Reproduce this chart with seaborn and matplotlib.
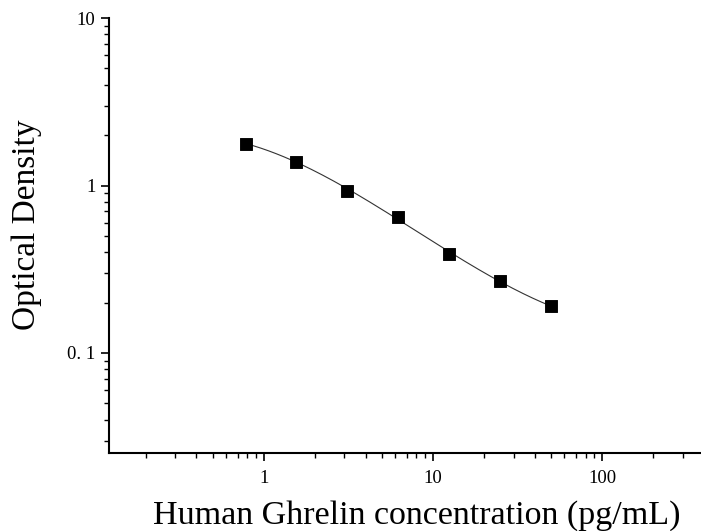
import numpy as np
import pandas as pd
import matplotlib
matplotlib.use("Agg")
import matplotlib.pyplot as plt
import seaborn as sns
from matplotlib.ticker import LogLocator, FixedLocator, FixedFormatter, NullFormatter

# standard curve values
concentration = [0.78, 1.56, 3.125, 6.25, 12.5, 25, 50]
optical_density = [1.78, 1.39, 0.93, 0.65, 0.39, 0.27, 0.19]
x_ticks = [1, 10, 100]
x_tick_labels = ["1", "10", "100"]
y_ticks = [0.1, 1, 10]
y_tick_labels = ["0. 1", "1", "10"]

df = pd.DataFrame({"conc": concentration, "od": optical_density})

sns.set_style("white")
plt.rcParams["font.family"] = ["Liberation Serif", "DejaVu Serif"]
plt.rcParams["text.color"] = "black"
plt.rcParams["axes.labelcolor"] = "black"
plt.rcParams["xtick.color"] = "black"
plt.rcParams["ytick.color"] = "black"

fig = plt.figure(figsize=(7.01, 5.31), dpi=100)
ax = fig.add_axes([0.155, 0.147, 0.845, 0.819])

# smooth fitted curve (cubic in log-log space)
coef = np.polyfit(np.log10(df.conc), np.log10(df.od), 3)
xs = np.logspace(np.log10(df.conc.min()), np.log10(df.conc.max()), 200)
fit = pd.DataFrame({"conc": xs, "od": 10 ** np.polyval(coef, np.log10(xs))})
sns.lineplot(data=fit, x="conc", y="od", ax=ax, color="#333333", linewidth=0.8)

sns.scatterplot(data=df, x="conc", y="od", ax=ax, marker="s", s=65,
                color="black", edgecolor="black", zorder=3)

ax.set_xscale("log")
ax.set_yscale("log")
ax.set_xlim(0.121, 385)
ax.set_ylim(0.0253, 10)

ax.xaxis.set_major_locator(FixedLocator(x_ticks))
ax.xaxis.set_major_formatter(FixedFormatter(x_tick_labels))
ax.yaxis.set_major_locator(FixedLocator(y_ticks))
ax.yaxis.set_major_formatter(FixedFormatter(y_tick_labels))
ax.xaxis.set_minor_locator(LogLocator(base=10, subs=np.arange(2, 10)))
ax.yaxis.set_minor_locator(LogLocator(base=10, subs=np.arange(2, 10)))
ax.xaxis.set_minor_formatter(NullFormatter())
ax.yaxis.set_minor_formatter(NullFormatter())

ax.tick_params(which="major", direction="out", length=6, width=1.2,
               labelsize=13.5, bottom=True, left=True, colors="black")
ax.tick_params(axis="x", which="major", pad=6)
ax.tick_params(which="minor", direction="out", length=3.5, width=1.0,
               bottom=True, left=True, colors="black")

for side in ["top", "right"]:
    ax.spines[side].set_visible(False)
for side in ["left", "bottom"]:
    ax.spines[side].set_linewidth(1.5)
    ax.spines[side].set_color("black")

ax.set_xlabel("Human Ghrelin concentration (pg/mL)", fontsize=24.5,
              labelpad=10, x=0.52, color="black")
ax.set_ylabel("Optical Density", fontsize=24, labelpad=18, y=0.525,
              color="black")

fig.savefig("out.png", dpi=100)
